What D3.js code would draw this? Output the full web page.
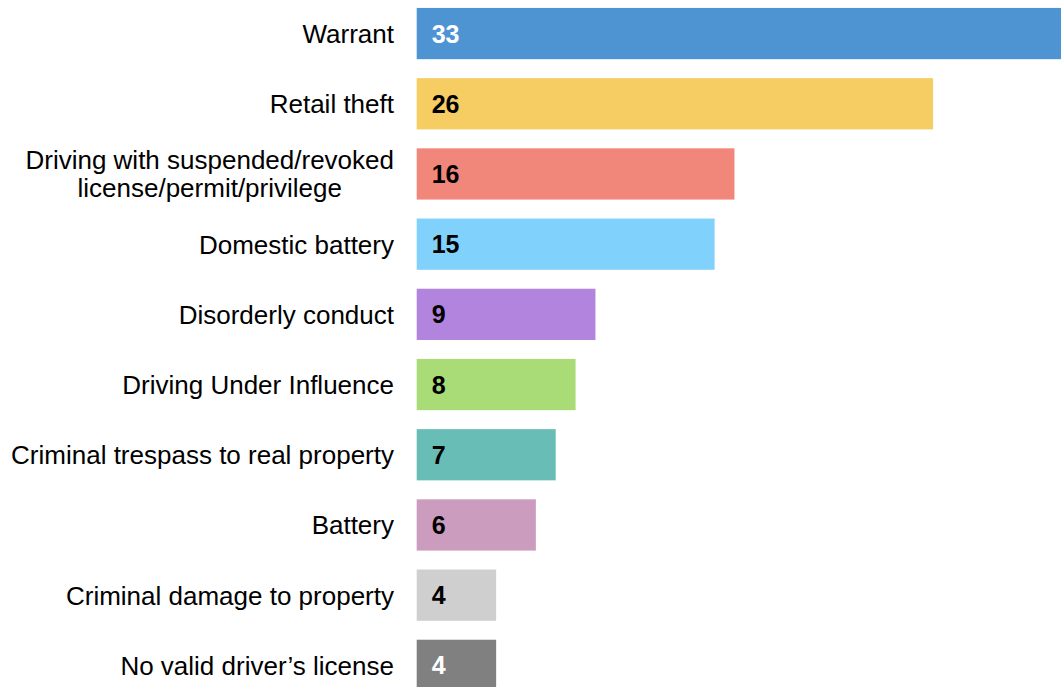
<!DOCTYPE html>
<html><head><meta charset="utf-8">
<script src="https://cdn.jsdelivr.net/npm/d3@7"></script>
<style>body{margin:0;background:#fff;overflow:hidden}svg{display:block}</style>
</head><body>
<svg id="chart" width="1061" height="687"></svg>
<script>
const categories = ["Warrant","Retail theft","Driving with suspended/revoked\nlicense/permit/privilege","Domestic battery","Disorderly conduct","Driving Under Influence","Criminal trespass to real property","Battery","Criminal damage to property","No valid driver\u2019s license"];
const values = [33,26,16,15,9,8,7,6,4,4];
const colors = ["#4E94D3","#F6CD63","#F0877A","#80D1FB","#B284DD","#A9DB76","#68BEB6","#CB9CBE","#D0CFD0","#808080"];
const labelColors = ["#fff","#000","#000","#000","#000","#000","#000","#000","#000","#fff"];

const svg = d3.select("#chart");
const x0 = 416.7;
const x = d3.scaleLinear().domain([0, 33]).range([x0, x0 + 33*19.86]);
const y = d3.scaleBand().domain(categories).range([-1.55, 700.45]).paddingInner(0.27).paddingOuter(0.135);
const font = "'Liberation Sans', Arial, sans-serif";

svg.selectAll("rect.bar").data(values).enter().append("rect")
  .attr("class","bar")
  .attr("x", x(0))
  .attr("y", (d,i)=>y(categories[i]))
  .attr("width", d=>x(d)-x(0))
  .attr("height", y.bandwidth())
  .attr("fill", (d,i)=>colors[i]);

svg.selectAll("text.val").data(values).enter().append("text")
  .attr("class","val")
  .attr("x", x(0)+15)
  .attr("y", (d,i)=>y(categories[i])+y.bandwidth()/2)
  .attr("dy","0.36em")
  .attr("font-family", font).attr("font-size", 25).attr("font-weight","bold")
  .attr("fill", (d,i)=>labelColors[i])
  .text(d=>d);

const labels = svg.selectAll("text.cat").data(categories).enter().append("text")
  .attr("class","cat")
  .attr("font-family", font).attr("font-size", 26).attr("fill","#000");
labels.each(function(c,i){
  const lines = c.split("\n");
  const t = d3.select(this);
  const cy = y(c)+y.bandwidth()/2;
  if(lines.length===1){
    t.attr("x",394).attr("y",cy).attr("dy","0.36em").attr("text-anchor","end").text(c);
  } else {
    t.attr("text-anchor","middle");
    const tmp = t.append("tspan").text(lines[0]);
    const w = tmp.node().getComputedTextLength();
    tmp.remove();
    const cx = 394 - w/2;
    const lh = 28;
    lines.forEach((ln,k)=>{
      t.append("tspan").attr("x",cx).attr("y",cy + (k-(lines.length-1)/2)*lh).attr("dy","0.36em").text(ln);
    });
  }
});
</script>
</body></html>
